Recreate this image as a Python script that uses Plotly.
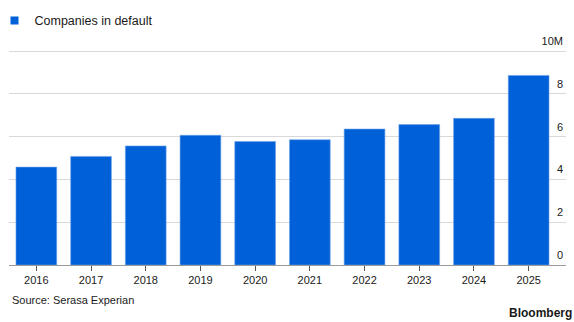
import plotly.graph_objects as go

years = ["2016", "2017", "2018", "2019", "2020", "2021", "2022", "2023", "2024", "2025"]
companies_in_default = [4.58, 5.08, 5.57, 6.07, 5.78, 5.86, 6.36, 6.57, 6.86, 8.87]
y_tick_vals = [0, 2, 4, 6, 8, 10]
y_tick_text = ["0", "2", "4", "6", "8", "10M"]
series_name = "Companies in default"

FONT = "Liberation Sans"
TXT = "#1a1a1a"
BLUE = "#0060D8"

fig = go.Figure()
fig.add_trace(go.Bar(
    x=years, y=companies_in_default, name=series_name, showlegend=False,
    marker=dict(color=BLUE, line=dict(color="#6fa3ea", width=0.6)),
))
# legend entry with a small square key
fig.add_trace(go.Scatter(
    x=[None], y=[None], mode="markers", name=series_name, showlegend=True,
    marker=dict(symbol="square", size=8, color=BLUE),
))

L, R, T, B = 9, 8, 31.7, 57
PLOT_W = 574 - L - R
PLOT_H = 322 - T - B
LEGEND_Y_PX = 20.5  # from top of page

fig.update_layout(
    width=574, height=322,
    margin=dict(l=L, r=R, t=T, b=B, autoexpand=False),
    paper_bgcolor="white", plot_bgcolor="white",
    bargap=0.255,
    font=dict(family=FONT, size=11, color=TXT),
    showlegend=True,
    legend=dict(
        xref="paper", yref="paper", x=-14.5 / PLOT_W, y=1 + (T - LEGEND_Y_PX) / PLOT_H,
        xanchor="left", yanchor="middle",
        font=dict(family=FONT, size=12.5, color=TXT),
        itemwidth=30, tracegroupgap=0, bgcolor="rgba(0,0,0,0)",
    ),
    xaxis=dict(
        type="category", range=[-0.5, 9.683],
        showgrid=False, showline=True, linecolor="#9a9a9a", linewidth=1,
        ticks="outside", ticklen=5, tickcolor="#555555", tickwidth=1,
        tickfont=dict(family=FONT, size=11, color=TXT),
    ),
    yaxis=dict(
        side="right", range=[0, 10.9], tickvals=y_tick_vals, ticktext=y_tick_text,
        showgrid=True, gridcolor="#d9d9d9", gridwidth=1, zeroline=False,
        showline=False, ticks="", ticklabelposition="inside",
        ticklabelstandoff=0, ticklabelshift=-10,
        tickfont=dict(family=FONT, size=11, color=TXT),
    ),
)

fig.add_annotation(
    text="Source: Serasa Experian", xref="paper", yref="paper",
    x=0, y=-35 / PLOT_H, xanchor="left", yanchor="middle", showarrow=False,
    font=dict(family=FONT, size=11, color=TXT), xshift=1,
)
fig.add_annotation(
    text="<b>Bloomberg</b>", xref="paper", yref="paper",
    x=1, y=-B / PLOT_H, xanchor="right", yanchor="bottom", showarrow=False,
    font=dict(family=FONT, size=12, color=TXT), xshift=R,
)

fig.write_html("out.html")
